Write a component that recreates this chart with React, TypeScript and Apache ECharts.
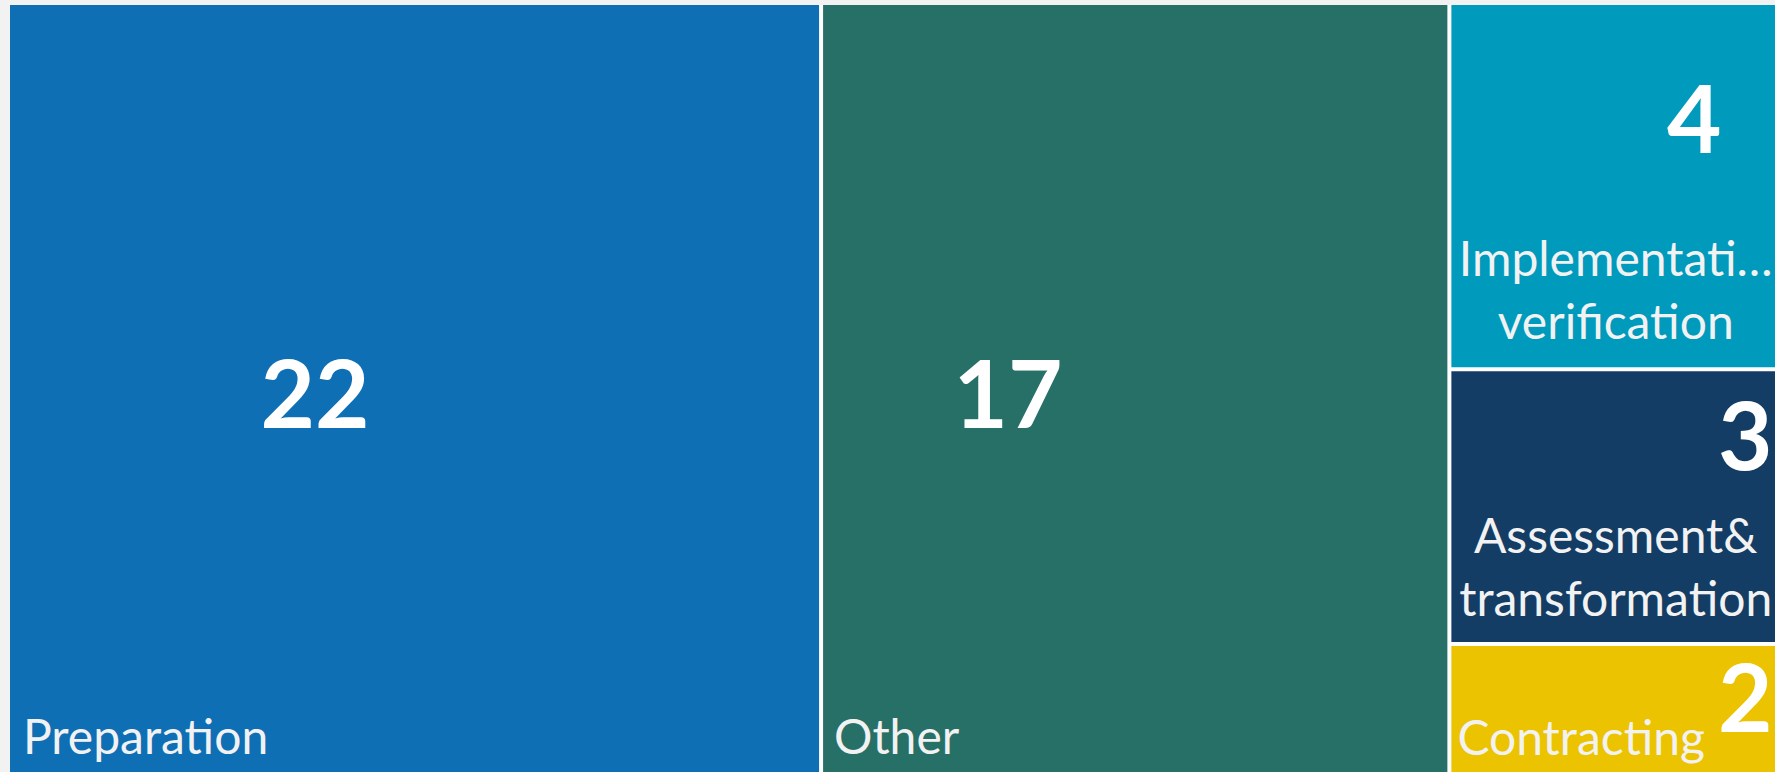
import React, { useEffect, useRef } from "react";
import * as echarts from "echarts";

// ---- data ----
const categories = [
  "Preparation",
  "Other",
  "Implementation& verification",
  "Assessment& transformation",
  "Contracting",
];
const counts = [22, 17, 4, 3, 2];
const shownNames = [
  "Preparation",
  "Other",
  "Implementati…\nverification",
  "Assessment&\ntransformation",
  "Contracting",
];

// ---- styles ----
const palette = ["#0F6FB5", "#277067", "#009ABD", "#143D66", "#EBC300"];
const valueLabelPos: [number | string, number | string][] = [
  [305, 386],
  [185, 386],
  [243, 111],
  [294, 62],
  [294, 50],
];
const nameLabelPos: [number | string, number | string][] = [
  [13, 730],
  [11, 730],
  ["50%", 284],
  ["50%", 195],
  [6, 91],
];
const nameAlign = ["left", "left", "center", "center", "left"];

const FONT = "Lato, 'Noto Sans', sans-serif";

export default function App() {
  const ref = useRef<HTMLDivElement>(null);
  useEffect(() => {
    if (!ref.current) return;
    const chart = echarts.init(ref.current, undefined, { renderer: "svg" });
    const geom = { left: 10, top: 5, width: 1770, height: 820 };
    const common = {
      type: "treemap",
      ...geom,
      roam: false,
      nodeClick: false,
      breadcrumb: { show: false },
      silent: true,
    };
    const valueData = categories.map((c, i) => ({
      name: c,
      value: counts[i],
      itemStyle: { color: palette[i], borderWidth: 0 },
      label: {
        show: true,
        position: valueLabelPos[i],
        align: "center",
        verticalAlign: "middle",
        formatter: String(counts[i]),
        fontFamily: FONT,
        fontWeight: "bold",
        fontSize: 94,
        color: "#ffffff",
        padding: 0,
        overflow: "none",
      },
    }));
    const nameData = categories.map((c, i) => ({
      name: c,
      value: counts[i],
      itemStyle: { color: "rgba(0,0,0,0)", borderWidth: 0 },
      label: {
        show: true,
        position: nameLabelPos[i],
        align: nameAlign[i],
        verticalAlign: "middle",
        formatter: shownNames[i],
        fontFamily: FONT,
        fontSize: 48,
        lineHeight: 63,
        color: "#F2F2F2",
        padding: 0,
        overflow: "none",
      },
    }));
    chart.setOption({
      animation: false,
      backgroundColor: "#F2F2F2",
      series: [
        {
          ...common,
          levels: [
            { itemStyle: { borderWidth: 0, gapWidth: 4, borderColor: "#FFFFFF" } },
          ],
          data: valueData,
        },
        {
          ...common,
          levels: [
            {
              itemStyle: {
                borderWidth: 0,
                gapWidth: 4,
                borderColor: "rgba(0,0,0,0)",
              },
            },
          ],
          data: nameData,
        },
      ],
    });
    return () => chart.dispose();
  }, []);
  return (
    <div
      ref={ref}
      style={{
        position: "fixed",
        left: 0,
        top: 0,
        width: 1775,
        height: 772,
        background: "#F2F2F2",
      }}
    />
  );
}
